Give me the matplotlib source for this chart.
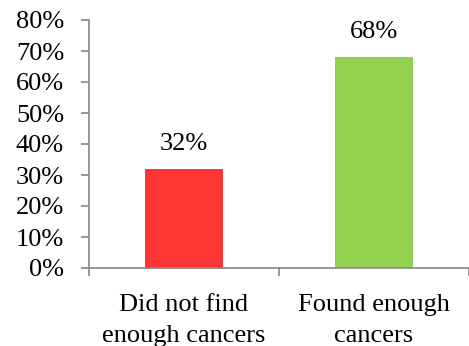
import matplotlib.pyplot as plt
from matplotlib.ticker import PercentFormatter

categories = ["Did not find\nenough cancers", "Found enough\ncancers"]
values = [32, 68]
labels = ["32%", "68%"]
colors = ["#FF3535", "#92D050"]

plt.rcParams['font.family'] = ['Liberation Serif', 'DejaVu Serif']

fig = plt.figure(figsize=(4.69, 3.46), dpi=100)
ax = fig.add_axes([89 / 469, 78 / 346, 380 / 469, 248 / 346])

x = range(len(values))
bars = ax.bar(x, values, width=0.41, color=colors)

for b, t in zip(bars, labels):
    ax.annotate(t, (b.get_x() + b.get_width() / 2, b.get_height()),
                xytext=(0, 10), textcoords="offset points",
                ha="center", va="bottom", fontsize=19)

ax.set_ylim(0, 80)
ax.set_yticks(range(0, 81, 10))
ax.yaxis.set_major_formatter(PercentFormatter(decimals=0))
ax.set_xlim(-0.5, 1.5)
ax.set_xticks([-0.5, 0.5, 1.5])
ax.set_xticklabels([])
ax.set_xticks([0, 1], minor=True)
ax.set_xticklabels(categories, minor=True, fontsize=19, linespacing=1.5)

gray = "#868686"
for s in ["top", "right"]:
    ax.spines[s].set_visible(False)
for s in ["left", "bottom"]:
    ax.spines[s].set_color(gray)
    ax.spines[s].set_linewidth(1.2)

ax.tick_params(axis="y", length=6, width=1.2, color=gray, pad=12, labelsize=19)
ax.tick_params(axis="x", which="major", length=6, width=1.2, color=gray)
ax.tick_params(axis="x", which="minor", length=0, pad=19)

fig.savefig("out.png", dpi=100)
